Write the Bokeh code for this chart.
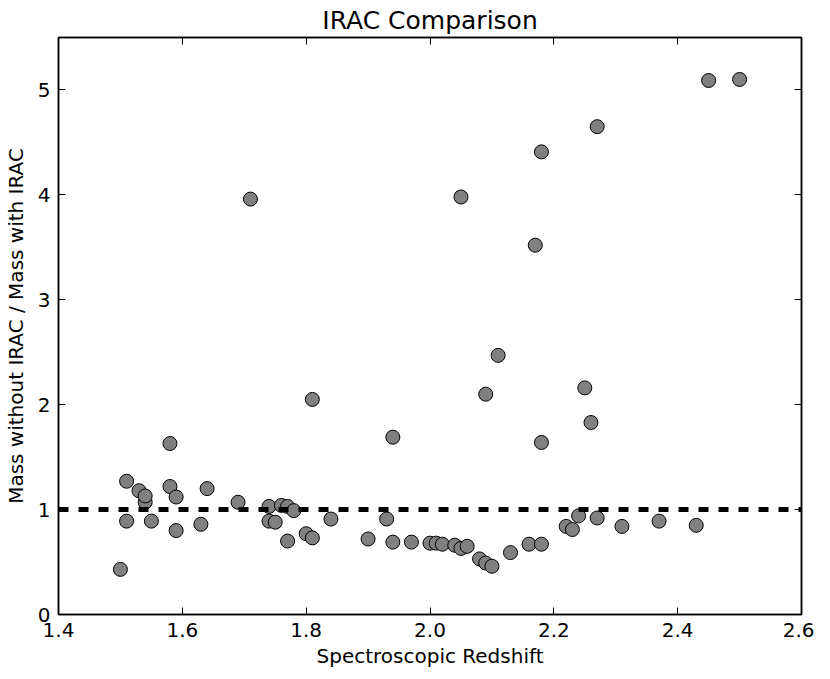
from bokeh.plotting import figure
from bokeh.models import LinearAxis, Range1d, FixedTicker, Span, ColumnDataSource
from bokeh.embed import file_html
from bokeh.resources import INLINE

redshift = [1.50, 1.51, 1.51, 1.53, 1.54, 1.54, 1.55, 1.58, 1.58, 1.59, 1.59, 1.63, 1.64,
            1.69, 1.71, 1.74, 1.74, 1.75, 1.76, 1.77, 1.77, 1.78, 1.80, 1.81, 1.81, 1.84,
            1.90, 1.93, 1.94, 1.94, 1.97, 2.00, 2.01, 2.02, 2.04, 2.05, 2.06, 2.08, 2.09,
            2.10, 2.13, 2.16, 2.18, 2.18, 2.22, 2.23, 2.24, 2.26, 2.27, 2.31, 2.37, 2.43,
            2.05, 2.09, 2.11, 2.17, 2.18, 2.25, 2.27, 2.45, 2.50]
mass_ratio = [0.43, 1.27, 0.89, 1.18, 1.07, 1.13, 0.89, 1.63, 1.22, 1.12, 0.80, 0.86, 1.20,
              1.07, 3.96, 1.03, 0.89, 0.88, 1.04, 1.03, 0.70, 0.99, 0.77, 0.73, 2.05, 0.91,
              0.72, 0.91, 1.69, 0.69, 0.69, 0.68, 0.68, 0.67, 0.66, 0.63, 0.65, 0.53, 0.49,
              0.46, 0.59, 0.67, 0.67, 1.64, 0.84, 0.81, 0.94, 1.83, 0.92, 0.84, 0.89, 0.85,
              3.98, 2.10, 2.47, 3.52, 4.41, 2.16, 4.65, 5.09, 5.10]

x_ticks = [1.4, 1.6, 1.8, 2.0, 2.2, 2.4, 2.6]
y_ticks = [0, 1, 2, 3, 4, 5]
reference_level = 1.0

FONT = "DejaVu Sans"

p = figure(width=814, height=671, output_backend="svg", toolbar_location=None,
           x_range=Range1d(1.4, 2.6), y_range=Range1d(0, 5.5),
           title="IRAC Comparison",
           min_border_left=51, min_border_right=13, min_border_top=34, min_border_bottom=57)
p.title.align = "center"
p.title.text_font = FONT
p.title.text_font_size = "25px"
p.title.text_font_style = "normal"
p.title.text_color = "black"
p.title.standoff = 6
p.title.offset = 0

p.xgrid.visible = False
p.ygrid.visible = False
p.outline_line_color = "black"
p.outline_line_width = 1.5
p.background_fill_color = "white"
p.border_fill_color = "white"

p.xaxis.ticker = FixedTicker(ticks=x_ticks)
p.yaxis.ticker = FixedTicker(ticks=y_ticks)
p.xaxis.major_label_overrides = {t: f"{t:.1f}" for t in x_ticks}
p.xaxis.axis_label = "Spectroscopic Redshift"
p.yaxis.axis_label = "Mass without IRAC / Mass with IRAC"
for ax in (p.xaxis[0], p.yaxis[0]):
    ax.axis_label_text_font = FONT
    ax.axis_label_text_font_size = "20px"
    ax.axis_label_text_font_style = "normal"
    ax.axis_label_text_color = "black"
    ax.major_label_text_font = FONT
    ax.major_label_text_font_size = "20px"
    ax.major_label_text_color = "black"
    ax.major_tick_in = 7
    ax.major_tick_out = 0
    ax.minor_tick_in = 0
    ax.minor_tick_out = 0
    ax.axis_line_color = "black"
    ax.axis_line_width = 1.5
    ax.major_tick_line_color = "black"
    ax.major_tick_line_width = 1
p.xaxis.major_label_standoff = 8
p.xaxis.axis_label_standoff = 4
p.yaxis.major_label_standoff = 8
p.yaxis.axis_label_standoff = 7

top = LinearAxis(ticker=FixedTicker(ticks=x_ticks))
right = LinearAxis(ticker=FixedTicker(ticks=y_ticks))
top.major_label_overrides = {t: "" for t in x_ticks}
right.major_label_overrides = {t: "" for t in y_ticks}
for ax in (top, right):
    ax.major_label_text_font_size = "0px"
    ax.major_label_standoff = 0
    ax.axis_label_standoff = 0
    ax.major_tick_in = 7
    ax.major_tick_out = 0
    ax.minor_tick_in = 0
    ax.minor_tick_out = 0
    ax.axis_line_color = "black"
    ax.axis_line_width = 1.5
    ax.major_tick_line_color = "black"
p.add_layout(top, "above")
p.add_layout(right, "right")

p.add_layout(Span(location=reference_level, dimension="width", line_color="black",
                  line_width=5, line_dash="10 10"))

src = ColumnDataSource(data=dict(x=redshift, y=mass_ratio))
p.scatter("x", "y", source=src, size=14, fill_color="#808080", line_color="black",
          line_width=1)

open("out.html", "w").write(file_html(p, INLINE))
